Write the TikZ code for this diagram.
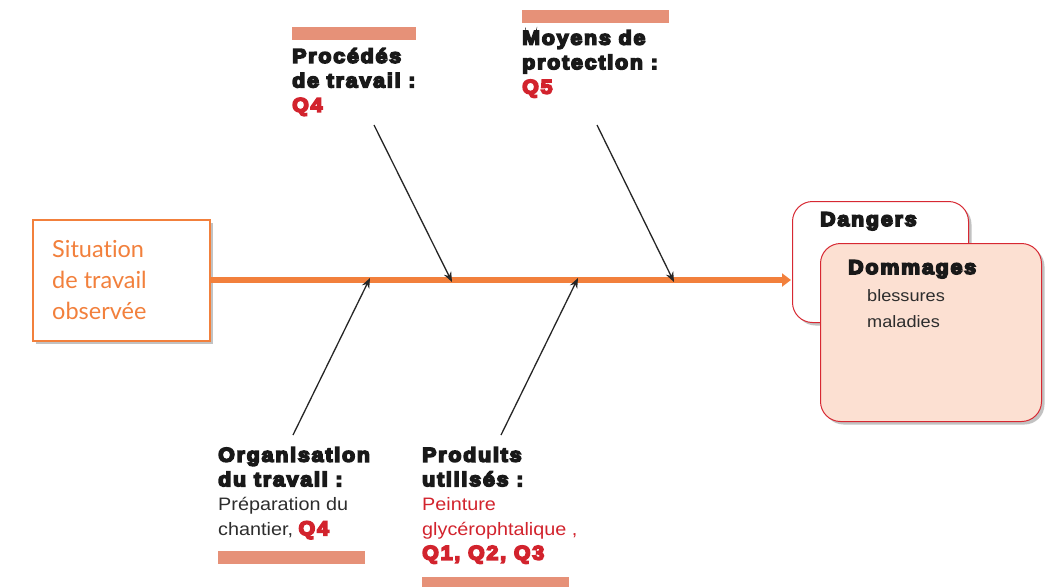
\documentclass[tikz,border=0pt]{standalone}
\usepackage{fontspec}
\setmainfont{Liberation Sans}
\newfontfamily\heavy[FakeBold=8,FakeStretch=1.07,LetterSpace=9]{Liberation Sans Bold}
\newfontfamily\plainfont[FakeStretch=1.1]{Liberation Sans}
\newfontfamily\sitfont[Ligatures=NoCommon]{Lato}
\usetikzlibrary{arrows.meta,shadows}
\definecolor{orangeC}{RGB}{242,128,60}
\definecolor{salmonC}{RGB}{230,145,120}
\definecolor{redC}{RGB}{210,35,45}
\definecolor{peachC}{RGB}{252,224,210}
\definecolor{borderC}{RGB}{215,40,50}
\definecolor{textC}{RGB}{45,45,45}
\tikzset{
  bar/.style={fill=salmonC,draw=none},
  head/.style={font=\heavy\fontsize{20}{24.5}\selectfont,text=black!90,align=left,inner sep=0pt,anchor=north west},
  bone/.style={draw=black!85,line width=1.3pt,-{Stealth[length=10pt,width=8pt]}},
  shad/.style={drop shadow={shadow xshift=3pt,shadow yshift=-3pt,fill=black!40,opacity=0.6}},
  card/.style={draw=borderC,line width=1pt,rounded corners=20pt,shad},
}
\newcommand{\bodyfont}{\plainfont\fontsize{18}{25}\selectfont}
\begin{document}
\begin{tikzpicture}[x=1pt,y=-1pt]
\useasboundingbox (0,0) rectangle (1058,587);
% situation box
\node[draw=orangeC,line width=2pt,fill=white,shad,minimum width=177pt,minimum height=121pt,anchor=north west,inner sep=0pt] (sit) at (32,219) {};
\node[font=\sitfont\fontsize{23.5}{31}\selectfont,text=orangeC,align=left,anchor=north west,inner sep=0pt] (sittxt) at (52,240) {Situation\\de travail\\observée};
% spine
\coordinate (spineEnd) at (791,280);
\draw[orangeC,line width=5.5pt,-{Triangle[length=9pt,width=13pt]}] (sit.east |- spineEnd) -- (spineEnd);
% bone targets
\coordinate (t1) at (452,282);
\coordinate (t2) at (674,282);
\coordinate (t3) at (370,278);
\coordinate (t4) at (578,278);
\coordinate (s1) at (374,125);
\coordinate (s2) at (597,125);
\coordinate (s3) at (293,435);
\coordinate (s4) at (501,435);
\draw[bone] (s1) -- (t1);
\draw[bone] (s2) -- (t2);
\draw[bone] (s3) -- (t3);
\draw[bone] (s4) -- (t4);
% top labels
\fill[bar] (292,27) rectangle (416,40);
\node[head] (proc) at (292,48) {Procédés\\de travail :\\\textcolor{redC}{Q4}};
\fill[bar] (522,10) rectangle (669,23);
\node[head] (moy) at (522,30) {Moyens de\\protection :\\\textcolor{redC}{Q5}};
% bottom labels
\node[head] (org) at (218,447) {Organisation\\du travail :\\{\bodyfont\color{textC}Préparation du}\\{\bodyfont\color{textC}chantier, }\textcolor{redC}{Q4}};
\fill[bar] (218,551) rectangle (365,564);
\node[head] (prod) at (422,447) {Produits\\utilisés :\\{\bodyfont\color{redC}Peinture}\\{\bodyfont\color{redC}glycérophtalique ,}\\\textcolor{redC}{Q1, Q2, Q3}};
\fill[bar] (422,577) rectangle (569,587);
% cards
\node[card,fill=white,minimum width=176pt,minimum height=121pt,anchor=north west,inner sep=0pt] (dangers) at (792,201) {};
\node[head,anchor=base west] (dangtxt) at (820,226) {Dangers};
\node[card,fill=peachC,minimum width=221pt,minimum height=178pt,anchor=north west,inner sep=0pt] (domm) at (820,243) {};
\node[head,anchor=base west] (domtxt) at (848,274) {Dommages};
\node[font=\plainfont\fontsize{16.5}{26}\selectfont,text=textC,align=left,inner sep=0pt,anchor=north west] (dlist) at (867,289) {blessures\\maladies};
\end{tikzpicture}
\end{document}
